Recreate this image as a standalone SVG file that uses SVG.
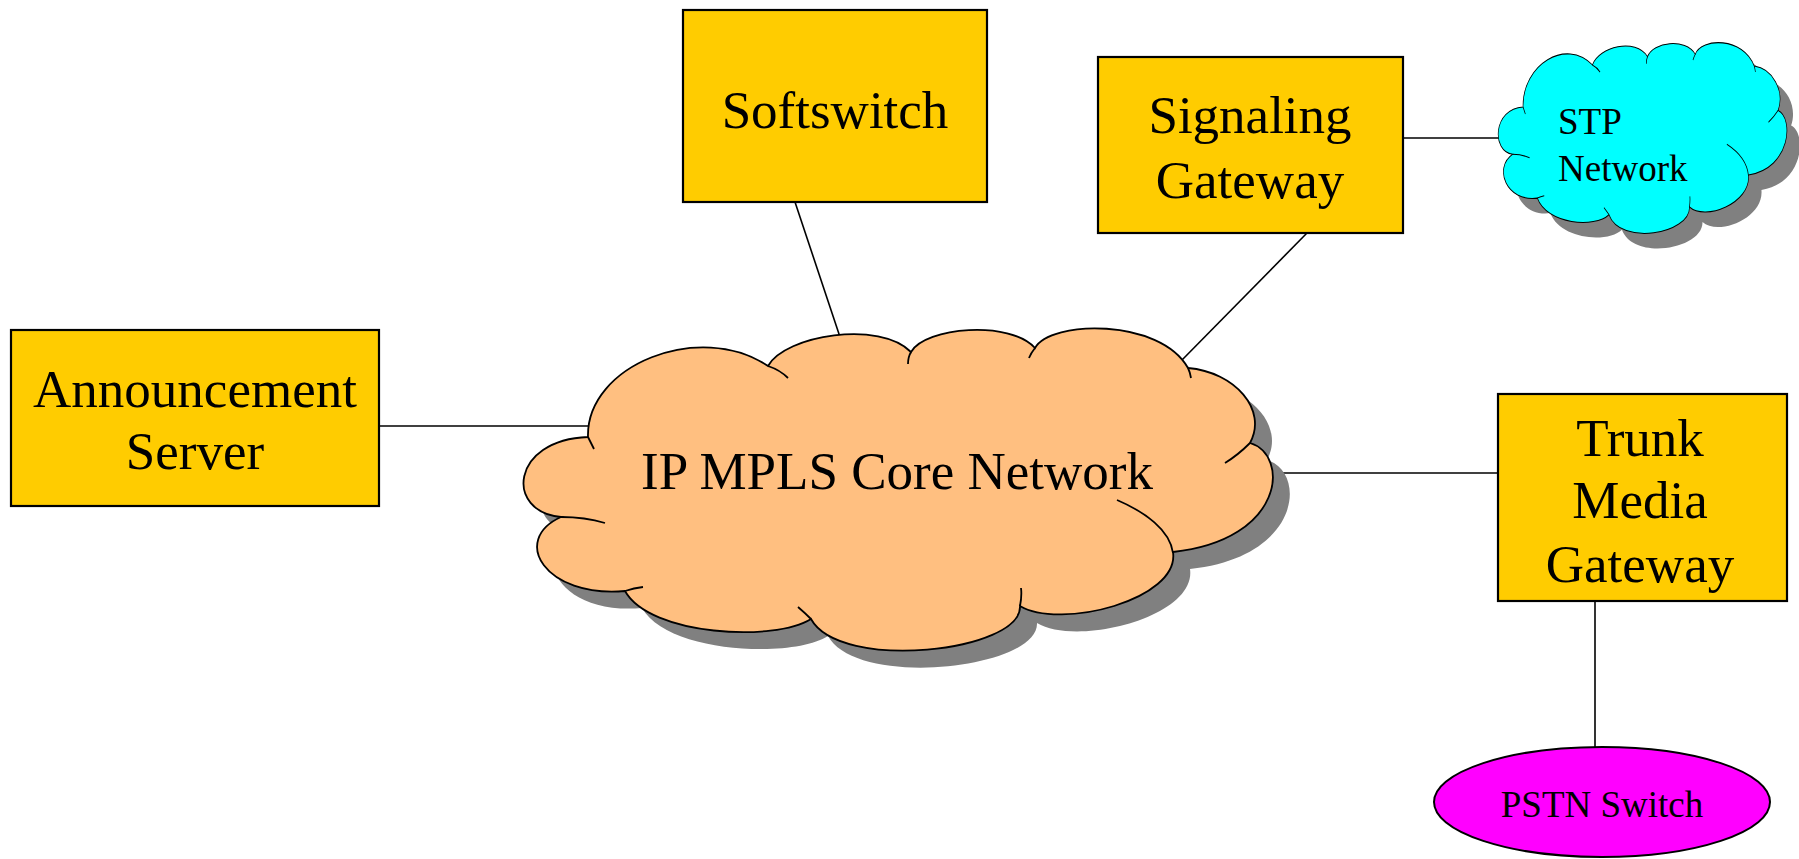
<svg xmlns="http://www.w3.org/2000/svg" xmlns:xlink="http://www.w3.org/1999/xlink" width="1799" height="859" viewBox="0 0 1799 859">
<style>
.box{fill:#FFCC00;stroke:#000;stroke-width:2.2}
.lbl{font-family:"Liberation Serif","Times New Roman",serif;font-size:53px;text-anchor:middle;fill:#000}
.small{font-family:"Liberation Serif","Times New Roman",serif;font-size:37px;fill:#000}
.conn{stroke:#000;stroke-width:1.6;fill:none}
.outline{stroke:#000;stroke-width:1.8;vector-effect:non-scaling-stroke}
.hooks{fill:none;stroke:#000;stroke-width:1.8;vector-effect:non-scaling-stroke}
.shadow{fill:#808080;stroke:none}
</style>
<defs>
<path id="cloudOutline" d="M588 437 C586 365 700 320 768 366 C785 335 880 320 911 352 C925 327 1010 320 1035 348 C1050 320 1160 318 1188 368 C1235 372 1268 410 1250 443 C1290 455 1285 540 1173 552 C1180 600 1060 630 1020 606 C1022 652 840 672 811 619 C775 642 650 636 625 591 C545 598 510 540 561 517 C505 512 510 440 588 437 Z"/>
<path id="cloudHooks" d="M588 437 Q591 443 594 449 M768 366 Q780 370 788 378 M911 352 Q908 357 908 364 M1035 348 Q1031 353 1029 358 M1188 368 Q1190 372 1191 378 M1250 443 Q1238 455 1225 463 M1117 500 C1145 512 1170 530 1173 553 M1020 606 Q1022 596 1021 588 M811 619 Q805 613 798 607 M625 591 Q634 588 643 587 M561 517 Q585 517 605 523"/>
</defs>

<g id="connectors">
<line class="conn" x1="379" y1="426" x2="588" y2="426"/>
<line class="conn" x1="795" y1="202" x2="843" y2="346"/>
<line class="conn" x1="1307" y1="233" x2="1182" y2="360"/>
<line class="conn" x1="1403" y1="138" x2="1500" y2="138"/>
<line class="conn" x1="1273" y1="473" x2="1498" y2="473"/>
<line class="conn" x1="1595" y1="601" x2="1595" y2="747"/>
</g>

<g id="core-network">
<use href="#cloudOutline" class="shadow" transform="translate(17 17)"/>
<use href="#cloudOutline" class="outline" fill="#FFBF80"/>
<use href="#cloudHooks" class="hooks"/>
<text class="lbl" x="897" y="489">IP MPLS Core Network</text>
</g>

<g id="stp-network">
<g transform="translate(1511 58) scale(0.3853 0.592) translate(-523 -329)">
<use href="#cloudOutline" class="shadow"/>
</g>
<g transform="translate(1498 43) scale(0.3853 0.592) translate(-523 -329)">
<use href="#cloudOutline" class="outline" fill="#00FFFF"/>
<use href="#cloudHooks" class="hooks"/>
</g>
<text class="small" x="1558" y="134">STP</text>
<text class="small" x="1558" y="181">Network</text>
</g>

<g id="softswitch">
<rect class="box" x="683" y="10" width="304" height="192"/>
<text class="lbl" x="835" y="128">Softswitch</text>
</g>

<g id="announcement-server">
<rect class="box" x="11" y="330" width="368" height="176"/>
<text class="lbl" x="195" y="407">Announcement</text>
<text class="lbl" x="195" y="469">Server</text>
</g>

<g id="signaling-gateway">
<rect class="box" x="1098" y="57" width="305" height="176"/>
<text class="lbl" x="1250" y="133">Signaling</text>
<text class="lbl" x="1250" y="198">Gateway</text>
</g>

<g id="trunk-media-gateway">
<rect class="box" x="1498" y="394" width="289" height="207"/>
<text class="lbl" x="1640" y="456">Trunk</text>
<text class="lbl" x="1640" y="518">Media</text>
<text class="lbl" x="1640" y="582">Gateway</text>
</g>

<g id="pstn-switch">
<ellipse cx="1602" cy="802" rx="168" ry="55" fill="#FF00FF" stroke="#000" stroke-width="2"/>
<text class="small" x="1602" y="817" text-anchor="middle">PSTN Switch</text>
</g>
</svg>
